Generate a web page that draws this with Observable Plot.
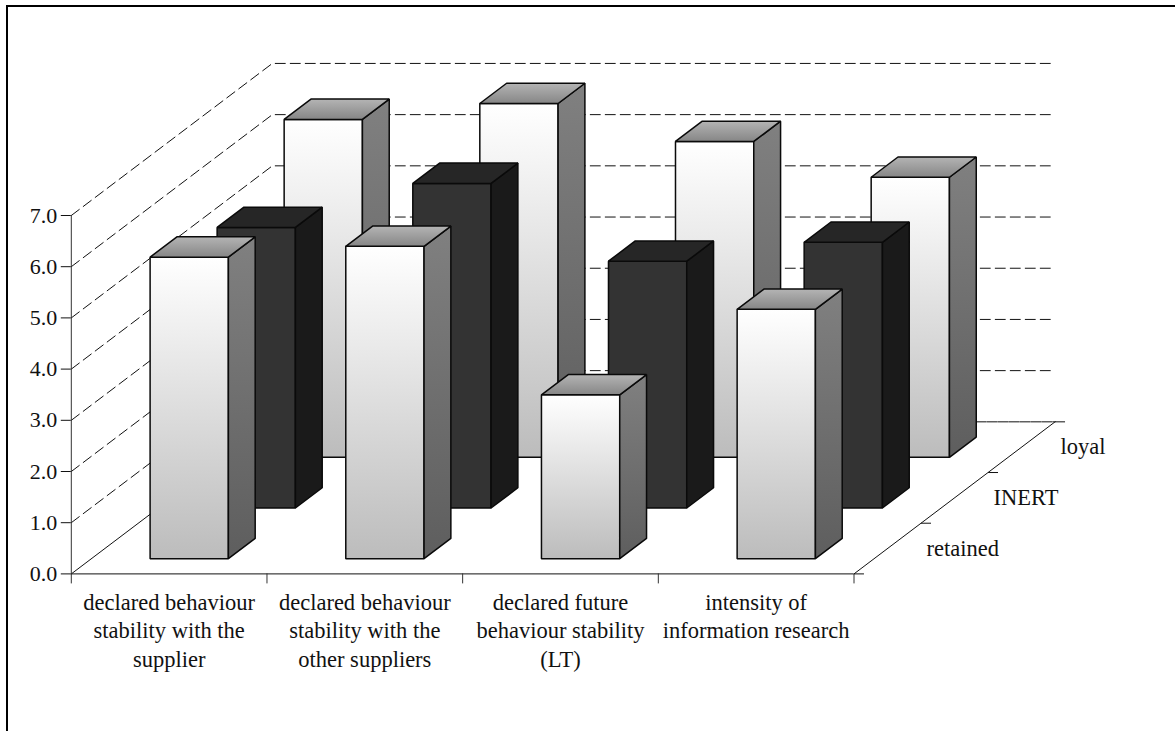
<!DOCTYPE html>
<html>
<head>
<meta charset="utf-8">
<script src="https://cdn.jsdelivr.net/npm/d3@7"></script>
<script src="https://cdn.jsdelivr.net/npm/@observablehq/plot@0.6"></script>
<style>
  html, body { margin: 0; padding: 0; background: #fff; overflow: hidden; }
  #frame { position: absolute; left: 6px; top: 5px; width: 1300px; height: 900px; border: 2px solid #000; }
  #chart { position: absolute; left: 0; top: 0; }
  #chart svg { font-family: "Liberation Serif", serif; overflow: visible; }
</style>
</head>
<body>
<div id="frame"></div>
<div id="chart"></div>
<script>
const categories = [
  "declared behaviour\nstability with the\nsupplier",
  "declared behaviour\nstability with the\nother suppliers",
  "declared future\nbehaviour stability\n(LT)",
  "intensity of\ninformation research"
];
const seriesNames = ["retained", "INERT", "loyal"];
const retained = [5.89, 6.10, 3.20, 4.87];
const inert = [5.48, 6.34, 4.82, 5.19];
const loyal = [6.60, 6.91, 6.17, 5.47];
const seriesValues = [retained, inert, loyal];
const yTicks = [0, 1, 2, 3, 4, 5, 6, 7];
const xTicks = [0, 1, 2, 3, 4];

// Oblique projection: one step of depth shifts a point right and up, in data units.
const depthX = 0.3425;
const depthY = 0.99;
const depthCount = seriesNames.length;
const project = ([x, v, d]) => ({px: x + d * depthX, py: v + d * depthY});

// Bars fill the middle 40% of their category and depth slots.
const barInset = 0.3;

function barFaces(catIndex, seriesIndex, value) {
  const x0 = catIndex + barInset, x1 = catIndex + 1 - barInset;
  const d0 = seriesIndex + barInset, d1 = seriesIndex + 1 - barInset;
  return {
    front: [[x0, 0, d0], [x1, 0, d0], [x1, value, d0], [x0, value, d0]].map(project),
    side: [[x1, 0, d0], [x1, 0, d1], [x1, value, d1], [x1, value, d0]].map(project),
    top: [[x0, value, d0], [x1, value, d0], [x1, value, d1], [x0, value, d1]].map(project)
  };
}

const palettes = [
  {front: "url(#lightFront)", side: "url(#lightSide)", top: "url(#lightTop)"},
  {front: "#333333", side: "#1a1a1a", top: "#262626"},
  {front: "url(#lightFront)", side: "url(#lightSide)", top: "url(#lightTop)"}
];

const face = (points, fill) => Plot.line(points, {
  x: "px", y: "py", curve: "linear-closed", fill,
  stroke: "#0a0a0a", strokeWidth: 1.5, strokeLinejoin: "miter"
});

// Back rows are drawn first so nearer bars overlap them.
const barMarks = [];
for (let s = seriesValues.length - 1; s >= 0; --s) {
  seriesValues[s].forEach((value, c) => {
    const faces = barFaces(c, s, value);
    barMarks.push(face(faces.front, palettes[s].front));
    barMarks.push(face(faces.side, palettes[s].side));
    barMarks.push(face(faces.top, palettes[s].top));
  });
}

// Dashed wall lines for each value: along the left wall, then across the back wall.
const wallLines = yTicks.slice(1).flatMap((v) =>
  [[0, v, 0], [0, v, depthCount], [categories.length, v, depthCount]].map((p) => ({level: v, ...project(p)}))
);
const floorBack = [[0, 0, depthCount], [categories.length, 0, depthCount]].map(project);
const floorEdges = [
  [[0, 0, 0], [0, 0, depthCount]],
  [[categories.length, 0, 0], [categories.length, 0, depthCount]]
].flat().map((p, i) => ({edge: i >> 1, ...project(p)}));

const depthTickLength = 0.051;
const depthTicks = d3.range(depthCount + 1).map((d) => project([categories.length, 0, d]));
const depthLabels = seriesNames.map((name, d) => ({name, ...project([categories.length, 0, d + 0.5])}));
const categoryLabels = categories.map((label, i) => ({label, x: i + 0.5}));

// Shared gradients for the light bars.
function gradients() {
  const defs = d3.create("svg:defs");
  const stops = {
    lightFront: ["#ffffff", "#bcbcbc"],
    lightSide: ["#808080", "#5e5e5e"],
    lightTop: ["#b4b4b4", "#868686"]
  };
  for (const [id, [a, b]] of Object.entries(stops)) {
    const g = defs.append("linearGradient").attr("id", id)
      .attr("x1", 0).attr("y1", 0).attr("x2", 0).attr("y2", 1);
    g.append("stop").attr("offset", 0).attr("stop-color", a);
    g.append("stop").attr("offset", 1).attr("stop-color", b);
  }
  return defs.node();
}

const chart = Plot.plot({
  width: 1175,
  height: 731,
  marginLeft: 70.8,
  marginRight: 321.5,
  marginTop: 215,
  marginBottom: 157.6,
  style: {background: "transparent", color: "#111", fontFamily: "Liberation Serif, serif"},
  x: {domain: [0, 4], axis: null},
  y: {domain: [0, 7], axis: null},
  marks: [
    gradients,
    Plot.line(wallLines, {x: "px", y: "py", z: "level", stroke: "#111", strokeWidth: 1, strokeDasharray: "10 5"}),
    Plot.line(floorBack, {x: "px", y: "py", stroke: "#111", strokeWidth: 1, strokeDasharray: "10 1"}),
    Plot.line(floorEdges, {x: "px", y: "py", z: "edge", stroke: "#111", strokeWidth: 1}),
    Plot.ruleY([0], {x1: 0, x2: 4, stroke: "#111"}),
    Plot.ruleX([0], {y1: 0, y2: 7, stroke: "#333"}),
    Plot.axisY({anchor: "left", ticks: yTicks, tickFormat: (d) => d.toFixed(1), tickSize: 10, tickPadding: 4, fontSize: 22, label: null, stroke: "#111"}),
    Plot.axisX({anchor: "bottom", ticks: xTicks, tickFormat: () => "", tickSize: 10, label: null, stroke: "#333"}),
    Plot.link(depthTicks, {x1: "px", y1: "py", x2: (d) => d.px + depthTickLength, y2: "py", stroke: "#111", strokeWidth: 1}),
    ...barMarks,
    Plot.text(categoryLabels, {x: "x", y: () => 0, text: "label", dy: 16, lineAnchor: "top", lineHeight: 1.26, fontSize: 22.5, fill: "#111"}),
    Plot.text(depthLabels, {x: "px", y: "py", text: "name", dx: 39, textAnchor: "start", fontSize: 22.5, fill: "#111"})
  ]
});
document.getElementById("chart").append(chart);
</script>
</body>
</html>
